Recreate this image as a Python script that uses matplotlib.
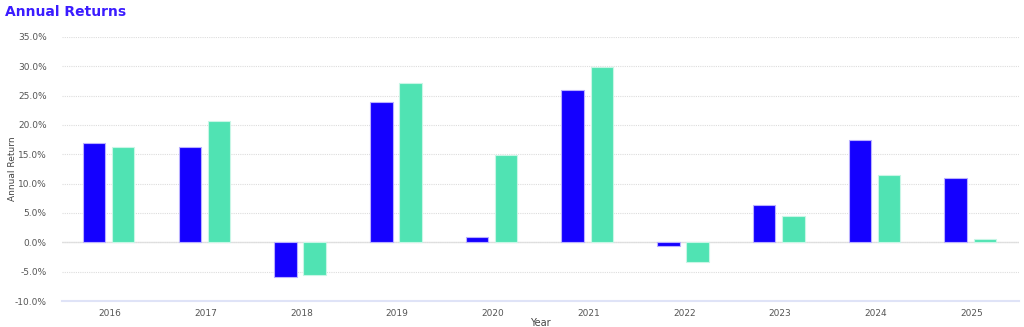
import numpy as np
import matplotlib.pyplot as plt
from matplotlib.ticker import FuncFormatter

years = ['2016', '2017', '2018', '2019', '2020', '2021', '2022', '2023', '2024', '2025']
portfolio = [16.9, 16.2, -5.9, 23.9, 0.9, 26.0, -0.6, 6.4, 17.4, 11.0]
benchmark = [16.2, 20.7, -5.6, 27.2, 14.8, 29.8, -3.3, 4.5, 11.5, 0.6]

blue = '#1400ff'
green = '#50e3b3'

fig = plt.figure(figsize=(10.24, 3.27), dpi=100)
ax = fig.add_axes([0.0605, 0.0795, 0.935, 0.8075])

x = np.arange(len(years))
barWidth = 0.235
ax.bar(x - 0.165, portfolio, width=barWidth, color=blue, edgecolor='#b9b0ff', linewidth=0.8, zorder=3)
ax.bar(x + 0.14, benchmark, width=barWidth, color=green, edgecolor='#c8f6e6', linewidth=0.8, zorder=3)

ax.set_xlim(-0.5, len(years) - 0.5)
ax.set_ylim(-10, 35)
ax.set_yticks(np.arange(-10, 36, 5))
ax.yaxis.set_major_formatter(FuncFormatter(lambda v, p: '%.1f%%' % v))
ax.set_xticks(x)
ax.set_xticklabels(years)

ax.grid(axis='y', color='#dddddd', linestyle=(0, (1, 1)), linewidth=0.8, zorder=0)
ax.axhline(0, color='#e3e3e3', linewidth=1, zorder=1)
for s in ['top', 'right', 'left']:
    ax.spines[s].set_visible(False)
ax.spines['bottom'].set_color('#dfe3f7')
ax.spines['bottom'].set_linewidth(1.5)
ax.tick_params(axis='both', length=0, labelsize=6.5, colors='#555555')
ax.tick_params(axis='x', pad=6)
ax.tick_params(axis='y', pad=11)

ax.set_ylabel('Annual Return', fontsize=6.5, color='#444444', labelpad=-2)
ax.set_xlabel('Year', fontsize=7, color='#444444', labelpad=0)

fig.text(0.005, 0.963, 'Annual Returns', fontsize=10, fontweight='bold', color='#3b1cff', va='center', ha='left')

fig.savefig('out.png', dpi=100)
